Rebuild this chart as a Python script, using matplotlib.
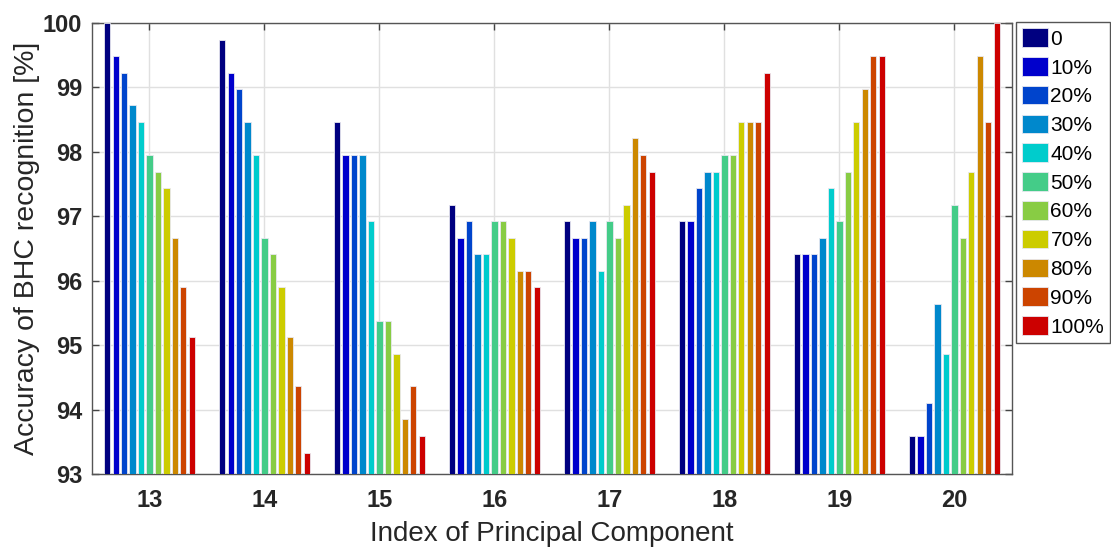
import numpy as np
import matplotlib.pyplot as plt

plt.rcParams['font.family'] = ['Liberation Sans', 'DejaVu Sans']

# principal component index (x groups)
components = [13, 14, 15, 16, 17, 18, 19, 20]
labels = ['0', '10%', '20%', '30%', '40%', '50%', '60%', '70%', '80%', '90%', '100%']
colors = ['#000080', '#0000CC', '#0044CC', '#0088CC', '#00CCCC', '#44CC88',
          '#88CC44', '#CCCC00', '#CC8800', '#CC4400', '#CC0000']

# accuracy [%], one row per component, one column per series
acc_13 = [100.00, 99.49, 99.23, 98.72, 98.46, 97.95, 97.69, 97.44, 96.67, 95.90, 95.13]
acc_14 = [99.74, 99.23, 98.97, 98.46, 97.95, 96.67, 96.41, 95.90, 95.13, 94.36, 93.33]
acc_15 = [98.46, 97.95, 97.95, 97.95, 96.92, 95.38, 95.38, 94.87, 93.85, 94.36, 93.59]
acc_16 = [97.18, 96.67, 96.92, 96.41, 96.41, 96.92, 96.92, 96.67, 96.15, 96.15, 95.90]
acc_17 = [96.92, 96.67, 96.67, 96.92, 96.15, 96.92, 96.67, 97.18, 98.21, 97.95, 97.69]
acc_18 = [96.92, 96.92, 97.44, 97.69, 97.69, 97.95, 97.95, 98.46, 98.46, 98.46, 99.23]
acc_19 = [96.41, 96.41, 96.41, 96.67, 97.44, 96.92, 97.69, 98.46, 98.97, 99.49, 99.49]
acc_20 = [93.59, 93.59, 94.10, 95.64, 94.87, 97.18, 96.67, 97.69, 99.49, 98.46, 100.00]

data = np.array([acc_13, acc_14, acc_15, acc_16, acc_17, acc_18, acc_19, acc_20])

fig = plt.figure(figsize=(11.11, 5.48), dpi=100)
ax = fig.add_axes([0.0828, 0.135, 0.828, 0.823])

n = len(labels)
step = 0.0735
width = 0.055
x = np.array(components, dtype=float)
for i in range(n):
    offs = (i - (n - 1) / 2) * step
    ax.bar(x + offs, data[:, i], width=width, bottom=0, color=colors[i],
           edgecolor='#e8e8f0', linewidth=0.6, label=labels[i], zorder=3)

ax.set_xlim(12.5, 20.5)
ax.set_ylim(93, 100)
ax.set_xticks(components)
ax.set_yticks(range(93, 101))
ax.tick_params(direction='in', top=True, right=True, length=5, width=1,
               labelsize=17, colors='#444444', labelcolor='#262626')
ax.tick_params(axis='x', pad=11)
ax.tick_params(axis='y', pad=7)
for lab in ax.get_xticklabels() + ax.get_yticklabels():
    lab.set_fontweight('bold')
ax.grid(True, color='#e0e0e0', linewidth=1, zorder=0)
ax.set_axisbelow(True)
for sp in ax.spines.values():
    sp.set_color('#555555')
    sp.set_linewidth(1)

ax.set_xlabel('Index of Principal Component', fontsize=20, labelpad=6,
              color='#262626')
ax.set_ylabel('Accuracy of BHC recognition [%]', fontsize=20.5, labelpad=2,
              color='#262626')

fig.legend(loc='upper left', bbox_to_anchor=(1016 / 1111, 1 - 22 / 548),
           borderaxespad=0, fontsize=15, handlelength=1.25, handleheight=1.0,
           handletextpad=0.1, labelspacing=0.4, borderpad=0.3,
           fancybox=False, edgecolor='#555555', framealpha=1)

fig.savefig('out.png', dpi=100)
